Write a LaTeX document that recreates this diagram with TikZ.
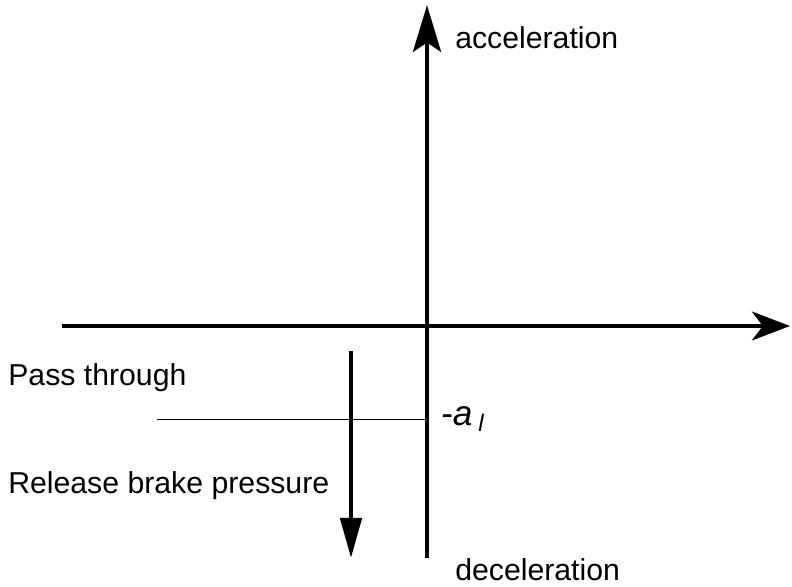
\documentclass[tikz,border=0pt]{standalone}
\usepackage{fontspec}
\setmainfont{Liberation Sans}
\usetikzlibrary{arrows.meta, positioning}
\tikzset{
  axis/.style  = {line width=3pt, -{Stealth[length=9.5mm, width=7.2mm, inset=2.7mm]}},
  move/.style  = {line width=3pt, -{Stealth[length=10mm, width=5.3mm, inset=0mm]}},
  thin/.style  = {line width=0.6pt},
  lbl/.style   = {font=\fontsize{21.5}{25}\selectfont, inner sep=0pt, anchor=west},
}
\begin{document}
\begin{tikzpicture}[x=0.025cm, y=-0.025cm]
    \useasboundingbox (0,0) rectangle (792,587);

    % axes
    \coordinate (xl) at (62,326);
    \coordinate (xr) at (790,326);
    \coordinate (yb) at (427,558);
    \coordinate (yt) at (427,5);
    \draw[axis] (xl) -- (xr);
    \draw[axis, -{Stealth[length=11.7mm, width=7mm, inset=2.3mm]}] (yb) -- (yt);

    % threshold
    \coordinate (th) at (157,419);
    \coordinate (ty) at (427,419);
    \draw[thin] (th) -- (ty);
    \node[lbl, font=\fontsize{25}{28}\selectfont] (al) at (441,419)
      {-\textit{a\,{\fontsize{17}{19}\selectfont\raisebox{-0.25em}{l}}}};

    % release arrow
    \coordinate (rs) at (351,351);
    \coordinate (re) at (351,558);
    \draw[move] (rs) -- (re);

    % labels
    \node[lbl] (acc) at (455,38) {acceleration};
    \node[lbl] (dec) at (455,570) {deceleration};
    \node[lbl] (pass) at (8,378) {Pass through};
    \node[lbl] (rel) at (8,486) {Release brake pressure};
  \end{tikzpicture}
\end{document}
